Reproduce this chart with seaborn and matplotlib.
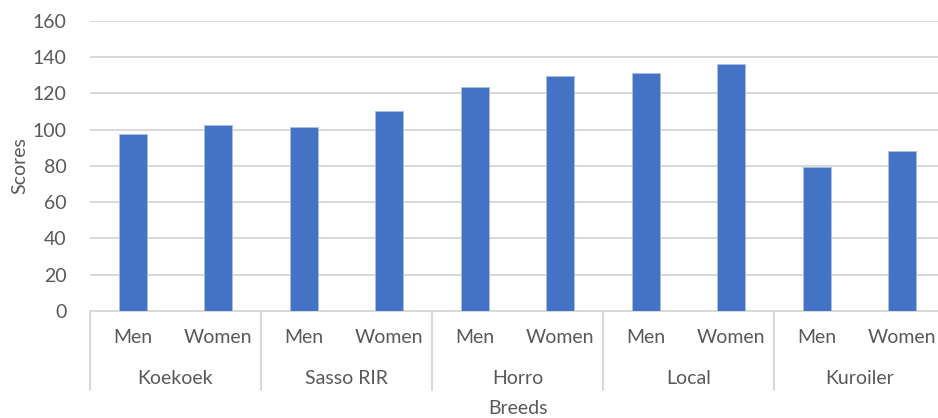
import matplotlib
matplotlib.use("Agg")
import matplotlib.pyplot as plt
import matplotlib.transforms as mtransforms
import seaborn as sns
import pandas as pd

# Breed groups and the two respondent groups within each
breeds = ["Koekoek", "Sasso RIR", "Horro", "Local", "Kuroiler"]
sexes = ["Men", "Women"]
men_scores = [97.4, 101.3, 123.3, 131.2, 79.5]
women_scores = [102.5, 110.4, 129.7, 136.4, 88.4]

rows = []
for b, m, w in zip(breeds, men_scores, women_scores):
    rows.append({"key": f"{b}|Men", "breed": b, "sex": "Men", "score": m})
    rows.append({"key": f"{b}|Women", "breed": b, "sex": "Women", "score": w})
df = pd.DataFrame(rows)

sns.set_theme(style="white")
plt.rcParams["font.family"] = ["Lato", "DejaVu Sans"]
text_color = "#595959"
grid_color = "#D9D9D9"
fs = 14

W, H = 938, 418
fig = plt.figure(figsize=(W / 100, H / 100), dpi=100)
left_px, right_px, top_px, bottom_px = 90, 945, 20.7, 311
ax = fig.add_axes([left_px / W, (H - bottom_px) / H,
                   (right_px - left_px) / W, (bottom_px - top_px) / H])

sns.barplot(data=df, x="key", y="score", order=list(df["key"]),
            color="#4472C4", saturation=1, width=0.33, edgecolor="#A9BFE6",
            linewidth=0.6, errorbar=None, ax=ax, zorder=3)

ax.set_ylim(0, 160)
ax.set_xlim(-0.5, len(df) - 0.5)
ax.set_yticks(range(0, 161, 20))
ax.yaxis.grid(True, color=grid_color, linewidth=1.4, zorder=0)
ax.set_axisbelow(True)
for s in ["top", "right", "left"]:
    ax.spines[s].set_visible(False)
ax.spines["bottom"].set_color(grid_color)
ax.spines["bottom"].set_linewidth(1.4)
ax.tick_params(axis="y", length=0, pad=17, labelsize=fs, labelcolor=text_color)
ax.tick_params(axis="x", length=0, pad=13, labelsize=fs, labelcolor=text_color)
ax.set_xticks(range(len(df)))
ax.set_xticklabels(list(df["sex"]))
ax.set_xlabel("")
ax.set_ylabel("")

axh = bottom_px - top_px
trans = mtransforms.blended_transform_factory(ax.transData, ax.transAxes)

# Group separators below the axis
for i in range(len(breeds) + 1):
    x = i * 2 - 0.5
    ax.plot([x, x], [0, -79 / axh], transform=trans, color=grid_color,
            linewidth=1.4, clip_on=False)

# Breed names under each pair
for i, b in enumerate(breeds):
    ax.text(i * 2 + 0.5, -67 / axh, b, transform=trans, ha="center", va="center",
            fontsize=fs, color=text_color)

ax.text(0.5, -97 / axh, "Breeds", transform=ax.transAxes, ha="center",
        va="center", fontsize=fs, color=text_color)
ax.text(-70 / (right_px - left_px), 0.5, "Scores", transform=ax.transAxes,
        ha="center", va="center", rotation=90, fontsize=fs, color=text_color)

fig.savefig("out.png", dpi=100, facecolor="white")
